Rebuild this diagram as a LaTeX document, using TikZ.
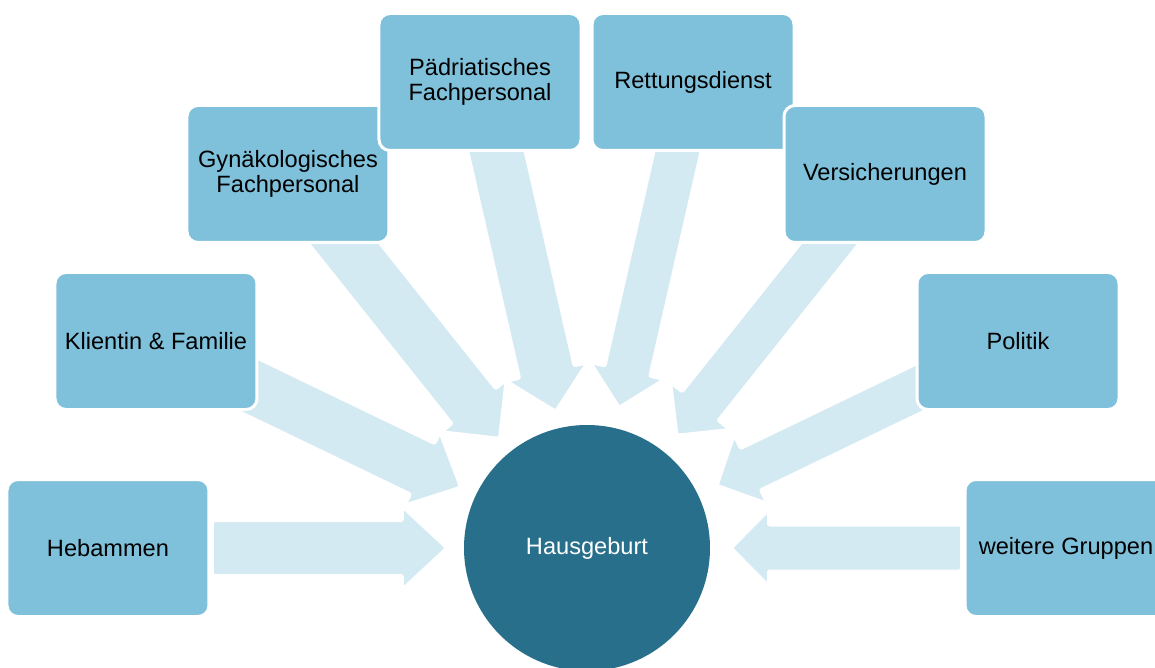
\documentclass[tikz,border=0pt]{standalone}
\definecolor{groupblue}{RGB}{127, 193, 219}
\definecolor{flowblue}{RGB}{212, 234, 243}
\definecolor{hubblue}{RGB}{39, 111, 139}
\usepackage{fontspec}
\setmainfont{Liberation Sans}
\usepackage{tikz}
\usetikzlibrary{positioning}

\tikzset{
  group/.style={draw=white, line width=3pt, fill=groupblue, rounded corners=11pt,
    minimum width=202pt, minimum height=137pt, align=center, inner sep=2pt,
    font=\fontsize{23.6}{25}\selectfont},
  hubcircle/.style={circle, fill=hubblue, minimum size=246pt, inner sep=0pt,
    text=white, font=\fontsize{23.6}{25}\selectfont},
  flow/.style={fill=flowblue, draw=white, line width=2pt, rounded corners=2pt}
}

\begin{document}
\begin{tikzpicture}[x=1pt, y=1pt]
  \useasboundingbox (-587, -119) rectangle (568, 548);

  % Centre
  \node[hubcircle] (hub) at (0, 0) {Hausgeburt};

  % Block arrows into the centre: angle/tail/tip/shaft/head/head length
  \foreach \ang/\tail/\tip/\shaft/\head/\len in {
      180/374/141/27/40/43, 154.29/420/141/27.5/39/41,
      128.57/420/141/27.5/40/40, 102.86/420/141/27.5/40/39,
      77.14/420/145/22.5/36.5/36, 51.43/420/145/22.5/36.5/36,
      25.71/420/145/22.5/36.5/36, 0/374/145/22.5/36.5/36}
    \draw[flow, shift={(hub.center)}, rotate=\ang]
      (\tail, \shaft) -- (\tip+\len, \shaft) -- (\tip+\len, \head) -- (\tip, 0)
      -- (\tip+\len, -\head) -- (\tip+\len, -\shaft) -- (\tail, -\shaft) -- cycle;

  % Groups around the centre
  \node[group] (hebammen) at (-479, 0) {Hebammen};
  \node[group] (klientin) at (-431, 207) {Klientin \& Familie};
  \node[group] (gyn) at (-299, 374) {Gynäkologisches\\Fachpersonal};
  \node[group] (paed) at (-107, 466) {Pädriatisches\\Fachpersonal};
  \node[group] (rettung) at (106, 466) {Rettungsdienst};
  \node[group] (versicherung) at (298, 374) {Versicherungen};
  \node[group] (politik) at (431, 207) {Politik};
  \node[group] (weitere) at (479, 0) {weitere Gruppen};
\end{tikzpicture}
\end{document}
